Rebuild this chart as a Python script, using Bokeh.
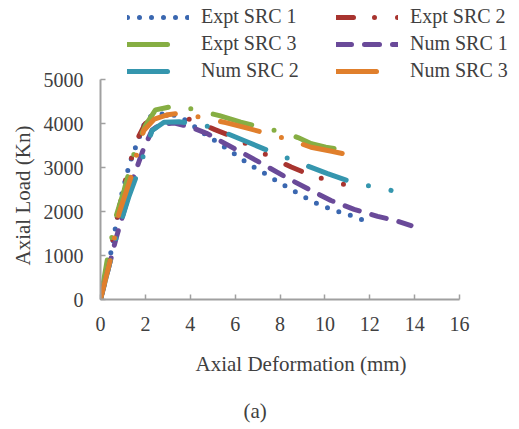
import math
from bokeh.plotting import figure
from bokeh.models import Range1d, Legend, LegendItem, Title, FixedTicker
from bokeh.embed import file_html
from bokeh.resources import INLINE

# ---- data ----
x_expt1 = [0, 0.3, 0.55, 0.9, 1.3, 1.7, 2.05, 2.5, 3.0, 3.5, 4.0, 4.6, 5.3, 6.0, 6.6, 7.3, 7.9, 8.6, 9.3, 9.8, 10.3, 10.8, 11.3, 11.8]
y_expt1 = [0, 650, 1300, 2300, 3100, 3650, 4120, 4220, 4210, 4170, 4000, 3780, 3540, 3300, 3080, 2870, 2680, 2470, 2270, 2140, 2050, 1960, 1890, 1780]

x_expt2 = [0, 0.4, 0.8, 1.2, 1.6, 2.0, 2.5, 3.2, 4.2, 5.1, 6.0, 6.85, 7.7, 8.5, 9.5, 10.4, 11.3]
y_expt2 = [0, 1000, 2000, 2900, 3600, 4000, 4170, 4200, 4060, 3860, 3680, 3440, 3200, 3010, 2800, 2680, 2550]

x_expt3 = [0, 0.3, 0.7, 1.05, 1.55, 2.0, 2.45, 3.4, 4.3, 5.3, 6.25, 7.3, 8.26, 8.8, 9.4, 10.04, 11.08]
y_expt3 = [0, 900, 1900, 2480, 3420, 3950, 4310, 4410, 4300, 4180, 4030, 3900, 3780, 3680, 3540, 3460, 3390]

x_num1 = [0, 0.3, 0.7, 1.1, 1.45, 1.9, 2.3, 2.7, 3.3, 4.0, 4.76, 5.6, 6.55, 7.5, 8.4, 9.3, 10.27, 11.3, 12.35, 13.1, 13.84]
y_num1 = [0, 600, 1400, 2100, 2750, 3400, 3850, 3990, 4010, 3920, 3770, 3530, 3270, 3000, 2740, 2500, 2250, 2050, 1890, 1800, 1680]

x_num2 = [0, 0.35, 0.74, 1.26, 1.64, 2.0, 2.3, 2.83, 3.5, 4.1, 4.69, 5.65, 6.5, 7.44, 8.4, 9.2, 10.12, 11.08, 12.0, 12.95]
y_num2 = [0, 700, 1490, 2330, 2860, 3400, 3840, 4030, 4040, 4000, 3950, 3770, 3590, 3390, 3200, 3040, 2860, 2690, 2580, 2480]

x_num3 = [0, 0.45, 0.82, 1.41, 1.64, 1.93, 2.4, 3.0, 3.57, 4.58, 5.58, 6.5, 7.44, 8.45, 9.38, 10.3, 11.24]
y_num3 = [0, 925, 1950, 2860, 3360, 3840, 4100, 4200, 4235, 4130, 4020, 3900, 3770, 3630, 3460, 3370, 3270]

series_names = ["Expt SRC 1", "Expt SRC 2", "Expt SRC 3", "Num SRC 1", "Num SRC 2", "Num SRC 3"]
x_ticks = [0, 2, 4, 6, 8, 10, 12, 14, 16]
y_ticks = [0, 1000, 2000, 3000, 4000, 5000]

colors = ["#3A67B0", "#A8342F", "#86AE43", "#6A4A99", "#3596AE", "#E07F2C"]
dashes = ["0 12", "17 21 0 23 0 23", "40 23 0 23", "15 13", "40 23 0 23", "40 23 0 23"]

FONT = "Liberation Serif"
TXT = "#404040"

# plot area: x 0..16 over 359 px, y 0..5000 over 220 px; the frame is extended
# up and to the right so the legend can live inside it
XPX = 359 / 16
YPX = 220 / 5000
p = figure(width=511, height=429, output_backend="svg", toolbar_location=None,
           x_range=Range1d(0, 16 + 52 / XPX), y_range=Range1d(0, 5000 + 79 / YPX),
           min_border_left=100, min_border_right=0, min_border_top=0, min_border_bottom=130)
p.outline_line_color = None
p.grid.visible = False
p.background_fill_color = "white"
p.border_fill_color = "white"

for ax in (p.xaxis[0], p.yaxis[0]):
    ax.axis_line_color = "#A0A0A0"
    ax.axis_line_width = 2
    ax.major_tick_line_color = "#A0A0A0"
    ax.major_tick_line_width = 1.5
    ax.major_tick_in = 5
    ax.major_tick_out = 0
    ax.minor_tick_line_color = None
    ax.major_label_text_font = FONT
    ax.major_label_text_font_size = "20px"
    ax.major_label_text_color = TXT

p.xaxis[0].ticker = FixedTicker(ticks=x_ticks)
p.yaxis[0].ticker = FixedTicker(ticks=y_ticks)
p.xaxis[0].bounds = (0, 16)
p.yaxis[0].bounds = (0, 5000)
p.xaxis[0].major_label_standoff = 17
p.yaxis[0].major_label_standoff = 17

xs = [x_expt1, x_expt2, x_expt3, x_num1, x_num2, x_num3]
ys = [y_expt1, y_expt2, y_expt3, y_num1, y_num2, y_num3]

items = []
for name, xx, yy, c, d in zip(series_names, xs, ys, colors, dashes):
    r = p.line(xx, yy, line_color=c, line_width=5, line_dash=d, line_cap="round", line_join="round")
    items.append(LegendItem(label=name, renderers=[r]))

legend = Legend(items=items, orientation="horizontal", ncols=2,
                location=(27, 217), padding=0, margin=0, spacing=4,
                glyph_width=62, glyph_height=22, label_height=22, label_width=131,
                label_standoff=12, label_text_font=FONT, label_text_font_size="20px",
                label_text_color=TXT, border_line_color=None, background_fill_alpha=0)
p.add_layout(legend, "center")

# axis titles and caption
p.add_layout(Title(text="Axial Deformation (mm)", align="left", offset=95,
                   text_font=FONT, text_font_size="21px", text_color=TXT,
                   text_font_style="normal", standoff=32), "below")
p.add_layout(Title(text="(a)", align="left", offset=143,
                   text_font=FONT, text_font_size="21px", text_color=TXT,
                   text_font_style="normal", standoff=11), "below")
p.add_layout(Title(text="Axial Load (Kn)", align="left", offset=34,
                   text_font=FONT, text_font_size="21px", text_color=TXT,
                   text_font_style="normal", standoff=12), "left")

open("out.html", "w").write(file_html(p, INLINE))
